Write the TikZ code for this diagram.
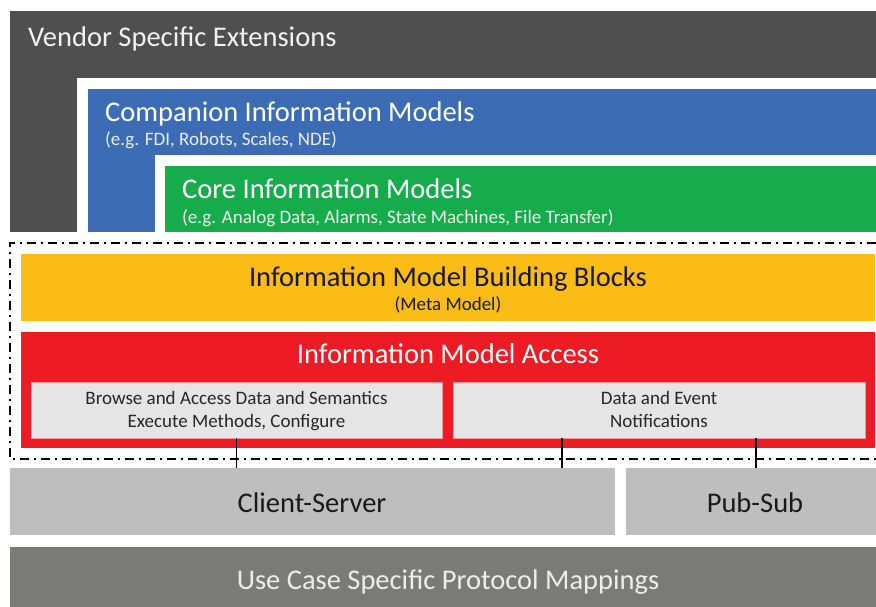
\documentclass[tikz,border=0pt]{standalone}
\usepackage{fontspec}
\setmainfont{Carlito}

\definecolor{vendorgray}{HTML}{4F4F4F}
\definecolor{compblue}{HTML}{3C6CB4}
\definecolor{coregreen}{HTML}{17AC4B}
\definecolor{blockyellow}{HTML}{FBBC15}
\definecolor{accessred}{HTML}{ED1C24}
\definecolor{servlight}{HTML}{E5E5E5}
\definecolor{transgray}{HTML}{BEBEBE}
\definecolor{mapgray}{HTML}{7A7A79}

\tikzset{
    layer/.style={rectangle, anchor=north west, inner sep=0pt, outer sep=0pt},
    servicebox/.style={layer, fill=servlight, draw=accessred!45, line width=0.6pt},
    bigtext/.style={inner sep=0pt, anchor=base, font=\fontsize{28.5}{33}\selectfont},
    smalltext/.style={inner sep=0pt, anchor=base, font=\fontsize{19}{23}\selectfont},
    link/.style={draw=black, line width=1.6pt},
    frame/.style={draw=black, line width=1.8pt, dash pattern=on 9pt off 5pt on 2pt off 5pt}
}

\begin{document}
\begin{tikzpicture}[x=1pt, y=1pt]
    \useasboundingbox[fill=white] (0,0) rectangle (876,-607);

    \node[layer, fill=vendorgray, minimum width=866pt, minimum height=221pt] (vendor) at (10,-11) {};
    \node[layer, fill=white, minimum width=799pt, minimum height=154pt] (gap1) at (77,-78) {};
    \node[layer, fill=compblue, minimum width=788pt, minimum height=143pt] (companion) at (88,-89) {};
    \node[layer, fill=white, minimum width=721pt, minimum height=77pt] (gap2) at (155,-155) {};
    \node[layer, fill=coregreen, minimum width=711pt, minimum height=66pt] (core) at (165,-166) {};

    \node[bigtext, anchor=base west, text=white!95!black] (vendortxt) at (28,-46.5) {Vendor Specific Extensions};
    \node[bigtext, anchor=base west, text=white] (comptxt) at (105,-121.5) {Companion Information Models};
    \node[smalltext, anchor=base west, text=white!92!black] (compsub) at (105,-146) {(e.g. FDI, Robots, Scales, NDE)};
    \node[bigtext, anchor=base west, text=white] (coretxt) at (182,-198.5) {Core Information Models};
    \node[smalltext, anchor=base west, text=white!92!black] (coresub) at (182,-223) {(e.g. Analog Data, Alarms, State Machines, File Transfer)};

    \draw[frame] (876,-243) -- (10,-243) -- (10,-459) -- (876,-459);

    \node[layer, fill=blockyellow, minimum width=854pt, minimum height=67pt] (blocks) at (21,-254) {};
    \node[bigtext, text=black!90] (blockstxt) at (448,-286.5) {Information Model Building Blocks};
    \node[smalltext, text=black!90] (blockssub) at (448,-310) {(Meta Model)};

    \node[layer, fill=accessred, minimum width=854pt, minimum height=116pt] (access) at (21,-332) {};
    \node[bigtext, text=white] (accesstxt) at (448,-363.5) {Information Model Access};

    \node[servicebox, minimum width=411pt, minimum height=56pt] (browse) at (31,-382) {};
    \node[smalltext, align=center, anchor=center, text=black!85] (browsetxt) at ([yshift=-1pt]browse.center) {Browse and Access Data and Semantics\strut\\Execute Methods, Configure\strut};
    \node[servicebox, minimum width=412pt, minimum height=56pt] (notif) at (453,-382) {};
    \node[smalltext, align=center, anchor=center, text=black!85] (notiftxt) at ([yshift=-1pt]notif.center) {Data and Event\strut\\Notifications\strut};

    \node[layer, fill=transgray, minimum width=605pt, minimum height=67pt] (cs) at (10,-468) {};
    \node[bigtext, text=black!90] (cstxt) at (312,-512.5) {Client-Server};
    \node[layer, fill=transgray, minimum width=250pt, minimum height=67pt] (ps) at (626,-468) {};
    \node[bigtext, text=black!90] (pstxt) at (755,-512.5) {Pub-Sub};

    \node[layer, fill=mapgray, minimum width=866pt, minimum height=60pt] (mapping) at (10,-547) {};
    \node[bigtext, text=white!93!black] (mappingtxt) at (448,-589) {Use Case Specific Protocol Mappings};

    \coordinate (t2) at (562,-468);
    \coordinate (t3) at (756,-468);
    \draw[link] (browse.south) -- (browse.south |- cs.north);
    \draw[link] (notif.south -| t2) -- (t2);
    \draw[link] (notif.south -| t3) -- (t3);
\end{tikzpicture}
\end{document}
